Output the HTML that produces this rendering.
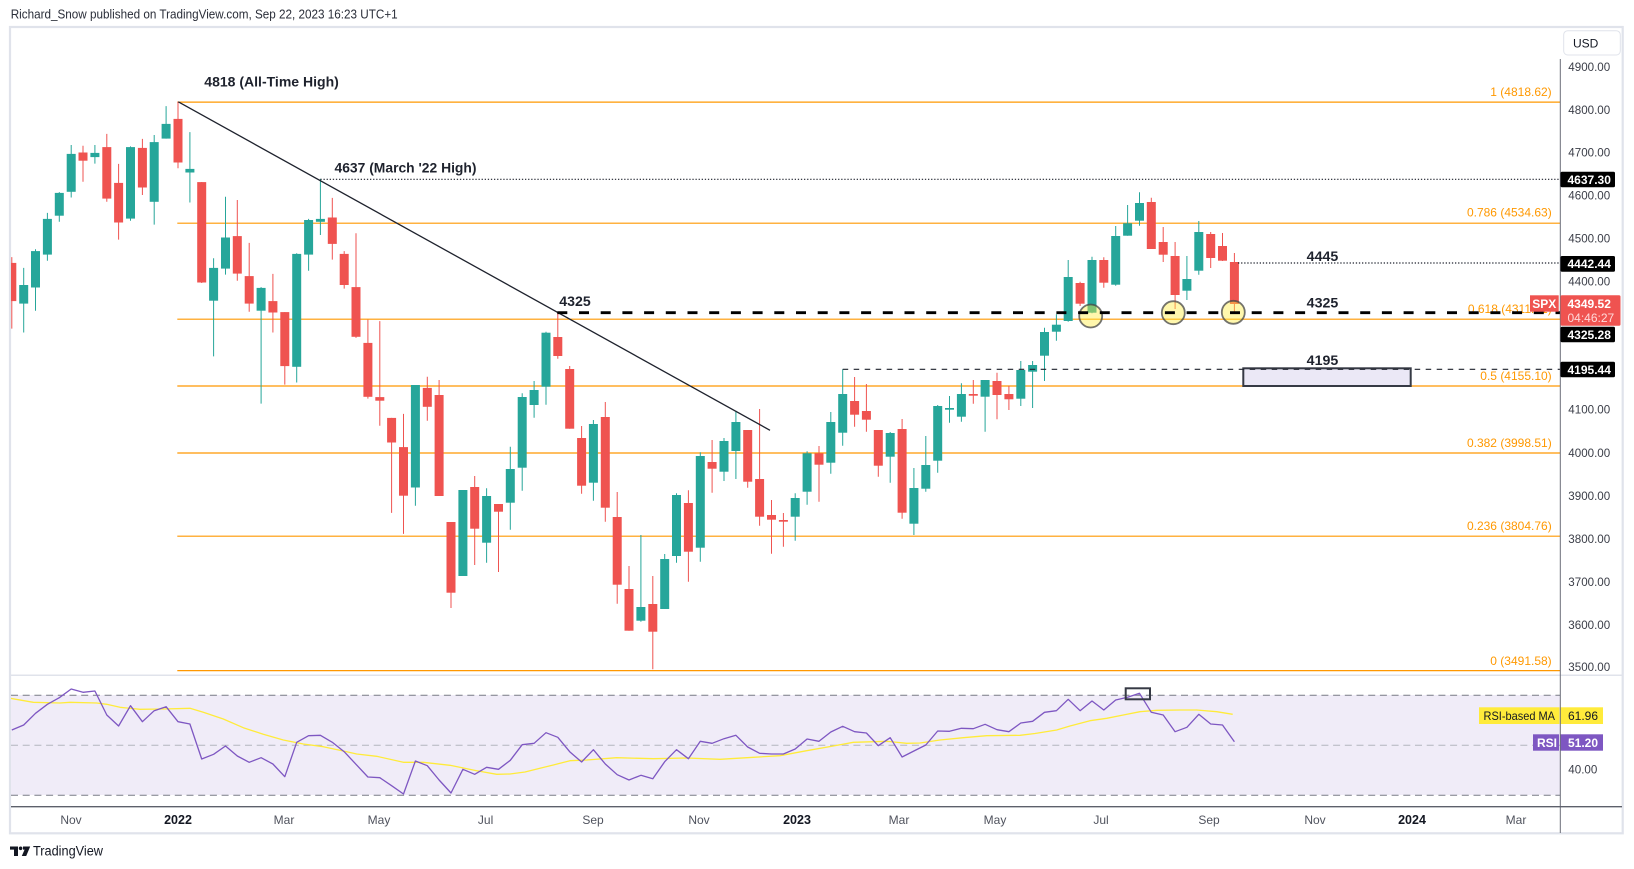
<!DOCTYPE html>
<html><head><meta charset="utf-8"><style>
html,body{margin:0;padding:0;background:#fff;width:1634px;height:869px;overflow:hidden}
svg{display:block}
text{font-family:"Liberation Sans",Arial,sans-serif}
</style></head><body>
<svg width="1634" height="869" viewBox="0 0 1634 869" xmlns="http://www.w3.org/2000/svg">
<defs><clipPath id="cp"><rect x="11" y="28" width="1549" height="647"/></clipPath>
<clipPath id="cr"><rect x="11" y="676" width="1549" height="130"/></clipPath></defs>
<rect width="1634" height="869" fill="#fff"/>
<text x="10.7" y="18.5" font-size="12.5" fill="#2a2e39" textLength="387" lengthAdjust="spacingAndGlyphs">Richard_Snow published on TradingView.com, Sep 22, 2023 16:23 UTC+1</text>
<rect x="10" y="27" width="1612.7" height="806.3" fill="#fff" stroke="#e0e3eb" stroke-width="2.2"/>

<!-- fib lines -->
<g stroke="#ff9800" stroke-width="1.2">
<line x1="177.3" y1="102.1" x2="1560" y2="102.1"/>
<line x1="177.3" y1="223.2" x2="1560" y2="223.2"/>
<line x1="177.3" y1="319.2" x2="1560" y2="319.2"/>
<line x1="177.3" y1="386" x2="1560" y2="386"/>
<line x1="177.3" y1="453" x2="1560" y2="453"/>
<line x1="177.3" y1="536.2" x2="1560" y2="536.2"/>
<line x1="177.3" y1="670.6" x2="1560" y2="670.6"/>
</g>
<g font-size="12" fill="#ff9800" text-anchor="end">
<text x="1551.7" y="96">1 (4818.62)</text>
<text x="1551.7" y="216.6">0.786 (4534.63)</text>
<text x="1551.7" y="313">0.618 (4311.61)</text>
<text x="1551.7" y="379.8">0.5 (4155.10)</text>
<text x="1551.7" y="446.8">0.382 (3998.51)</text>
<text x="1551.7" y="530">0.236 (3804.76)</text>
<text x="1551.7" y="664.8">0 (3491.58)</text>
</g>

<!-- rectangle zone -->
<rect x="1243.3" y="368.3" width="167.4" height="17.7" fill="#ebe8f6" stroke="#363a45" stroke-width="2"/>

<g clip-path="url(#cp)">
<!-- candles green -->
<path stroke="#26a69a" stroke-width="1" fill="none" d="M23.7 267.9V332.5M35.5 249.3V310.7M47.4 212.9V260.7M59.3 192.1V221.8M71.2 145V197.5M94.9 145V163.6M130.5 146.4V220.7M154.2 135V224.6M166.1 106.1V138.6M189.9 132.1V202.5M213.6 258.2V356.4M225.5 196.8V274.6M261.1 287.1V403.6M296.7 253.2V382.5M308.6 218.9V270.7M320.4 178.9V235M415.4 385V505.7M462.9 490V576M486.6 488.3V562.7M510.3 446.7V529.7M522.2 393.3V490.7M534.1 381V417.7M546 331.7V404.7M593.4 420V500.7M640.9 535V621.7M664.7 554V609M676.5 493.3V562.7M700.3 452.3V561.7M724 438V481M735.9 410.7V479M795.2 493.3V540.7M807.1 451.3V504.7M830.8 412V473.7M842.7 369.3V445.7M890.2 432V482.7M913.9 468V535M925.8 436V491.7M937.7 405V472.7M949.5 396V422.7M961.4 383.3V421.7M985.1 380V431.7M1020.8 361V406M1032.6 361V408M1044.5 327.7V381M1056.4 314.3V340.7M1068.2 260V321.7M1092 256.7V313.3M1115.7 226V285.7M1127.6 205V235.7M1139.5 192.3V225.7M1186.9 256V300M1198.8 221V274.7"/>
<g fill="#26a69a">
<rect x="19.2" y="285" width="9" height="18.6"/>
<rect x="31" y="251.1" width="9" height="36.4"/>
<rect x="42.9" y="218.9" width="9" height="35.7"/>
<rect x="54.8" y="192.9" width="9" height="22.8"/>
<rect x="66.7" y="153.9" width="9" height="37.9"/>
<rect x="90.4" y="152.9" width="9" height="4.2"/>
<rect x="126" y="147.1" width="9" height="71.5"/>
<rect x="149.7" y="142.1" width="9" height="59.7"/>
<rect x="161.6" y="123.9" width="9" height="14.7"/>
<rect x="185.4" y="168.9" width="9" height="3.6"/>
<rect x="209.1" y="267.9" width="9" height="32.8"/>
<rect x="221" y="237.5" width="9" height="31.1"/>
<rect x="256.6" y="287.9" width="9" height="22.8"/>
<rect x="292.2" y="253.9" width="9" height="112.9"/>
<rect x="304.1" y="220" width="9" height="34.6"/>
<rect x="315.9" y="218.9" width="9" height="2.9"/>
<rect x="410.9" y="385" width="9" height="102.5"/>
<rect x="458.4" y="490" width="9" height="86"/>
<rect x="482.1" y="496" width="9" height="46.7"/>
<rect x="505.8" y="469" width="9" height="33.7"/>
<rect x="517.7" y="397" width="9" height="70.7"/>
<rect x="529.6" y="390" width="9" height="15"/>
<rect x="541.5" y="332.7" width="9" height="54"/>
<rect x="588.9" y="424" width="9" height="58.7"/>
<rect x="636.4" y="607" width="9" height="13.7"/>
<rect x="660.2" y="559" width="9" height="50"/>
<rect x="672" y="495" width="9" height="61"/>
<rect x="695.8" y="456" width="9" height="91.7"/>
<rect x="719.5" y="441" width="9" height="30.7"/>
<rect x="731.4" y="422" width="9" height="29"/>
<rect x="790.7" y="498" width="9" height="18.7"/>
<rect x="802.6" y="453.3" width="9" height="38.4"/>
<rect x="826.3" y="422" width="9" height="40.7"/>
<rect x="838.2" y="394" width="9" height="38.7"/>
<rect x="885.7" y="433" width="9" height="23.7"/>
<rect x="909.4" y="488" width="9" height="35.7"/>
<rect x="921.3" y="465" width="9" height="23.7"/>
<rect x="933.2" y="406" width="9" height="54.7"/>
<rect x="945" y="408" width="9" height="1.7"/>
<rect x="956.9" y="394" width="9" height="22.7"/>
<rect x="980.6" y="380" width="9" height="16.7"/>
<rect x="1016.3" y="370" width="9" height="28.7"/>
<rect x="1028.1" y="365" width="9" height="6.7"/>
<rect x="1040" y="332" width="9" height="23.7"/>
<rect x="1051.9" y="324.7" width="9" height="7"/>
<rect x="1063.7" y="277" width="9" height="44"/>
<rect x="1087.5" y="260" width="9" height="52.7"/>
<rect x="1111.2" y="236" width="9" height="48.7"/>
<rect x="1123.1" y="223.3" width="9" height="12.4"/>
<rect x="1135" y="203" width="9" height="17.7"/>
<rect x="1182.4" y="279" width="9" height="11.7"/>
<rect x="1194.3" y="232" width="9" height="38.7"/>
</g>
<!-- candles red -->
<path stroke="#ef5350" stroke-width="1" fill="none" d="M11.8 257.1V328.6M83 145.7V181.8M106.8 133.9V201.8M118.6 163.9V239.6M142.4 138.9V195M178 101.8V168.2M201.7 182V283M237.3 200V280.7M249.2 242.9V311.8M272.9 273.9V332.5M284.8 312.1V384.6M332.3 197.9V259.6M344.2 251.1V288.6M356 233.2V337.9M367.9 319.6V398.6M379.8 321.1V425.7M391.6 417.9V512.9M403.5 413.9V533.9M427.3 376.8V420.7M439.1 380V496M451 522V608M474.7 476V565M498.5 504V572M557.8 312.3V358.7M569.7 366V428.7M581.6 426V493.7M605.3 402V521.7M617.2 492V603.7M629 566V630.7M652.8 576V669.3M688.4 490.3V581.7M712.1 440V492.7M747.7 430V487.7M759.6 409V525.7M771.5 500V553.7M783.4 513V546.7M819 446V501.7M854.6 377V426.7M866.4 384V431.7M878.3 430V476.7M902.1 419V518.7M973.3 380V403.7M997 372.7V419.3M1008.9 385.7V410M1080.1 281.7V306M1103.8 257.3V287.7M1151.3 197.7V249M1163.2 227V262M1175.1 242V309M1210.7 232V268M1222.5 233V261M1234.4 253V311.7"/>
<g fill="#ef5350">
<rect x="7.3" y="262.9" width="9" height="38.2"/>
<rect x="78.5" y="152.5" width="9" height="8.2"/>
<rect x="102.3" y="147.1" width="9" height="51.5"/>
<rect x="114.1" y="182.9" width="9" height="39.6"/>
<rect x="137.9" y="147.9" width="9" height="39.6"/>
<rect x="173.5" y="118.9" width="9" height="43.6"/>
<rect x="197.2" y="182.1" width="9" height="100.4"/>
<rect x="232.8" y="236.1" width="9" height="37.5"/>
<rect x="244.7" y="276.1" width="9" height="27.5"/>
<rect x="268.4" y="301.1" width="9" height="11.4"/>
<rect x="280.3" y="312.1" width="9" height="54"/>
<rect x="327.8" y="217.5" width="9" height="26.4"/>
<rect x="339.7" y="253.9" width="9" height="31.1"/>
<rect x="351.5" y="287.1" width="9" height="49.7"/>
<rect x="363.4" y="342.9" width="9" height="53.9"/>
<rect x="375.3" y="397.1" width="9" height="3.6"/>
<rect x="387.1" y="417.9" width="9" height="24.6"/>
<rect x="399" y="447.1" width="9" height="48.6"/>
<rect x="422.8" y="387.9" width="9" height="18.9"/>
<rect x="434.6" y="395" width="9" height="101"/>
<rect x="446.5" y="522" width="9" height="70.7"/>
<rect x="470.2" y="487" width="9" height="41.7"/>
<rect x="494" y="504" width="9" height="7.7"/>
<rect x="553.3" y="337" width="9" height="19"/>
<rect x="565.2" y="369" width="9" height="59.7"/>
<rect x="577.1" y="438" width="9" height="47.7"/>
<rect x="600.8" y="417" width="9" height="90.7"/>
<rect x="612.7" y="517" width="9" height="67.7"/>
<rect x="624.5" y="589" width="9" height="41.7"/>
<rect x="648.3" y="604" width="9" height="27.7"/>
<rect x="683.9" y="503" width="9" height="48.7"/>
<rect x="707.6" y="462" width="9" height="6.7"/>
<rect x="743.2" y="430" width="9" height="51.7"/>
<rect x="755.1" y="479" width="9" height="37.7"/>
<rect x="767" y="515" width="9" height="4.7"/>
<rect x="778.9" y="520" width="9" height="1.7"/>
<rect x="814.5" y="453.3" width="9" height="11.4"/>
<rect x="850.1" y="401" width="9" height="13.7"/>
<rect x="861.9" y="411" width="9" height="8.7"/>
<rect x="873.8" y="430" width="9" height="35.7"/>
<rect x="897.6" y="429" width="9" height="83.7"/>
<rect x="968.8" y="394" width="9" height="1.7"/>
<rect x="992.5" y="381" width="9" height="14"/>
<rect x="1004.4" y="394" width="9" height="5.3"/>
<rect x="1075.6" y="283" width="9" height="20.7"/>
<rect x="1099.3" y="260" width="9" height="22.7"/>
<rect x="1146.8" y="202" width="9" height="47"/>
<rect x="1158.7" y="242" width="9" height="12.7"/>
<rect x="1170.6" y="256" width="9" height="39"/>
<rect x="1206.2" y="234" width="9" height="24"/>
<rect x="1218" y="246" width="9" height="14.7"/>
<rect x="1229.9" y="262" width="9" height="42"/>
</g>

<!-- trend line -->
<line x1="178.3" y1="101.8" x2="770" y2="430.3" stroke="#1e222d" stroke-width="1.3"/>
<!-- dotted lines -->
<line x1="320.4" y1="179.3" x2="1560" y2="179.3" stroke="#1e222d" stroke-width="1.2" stroke-dasharray="1.3,1.8"/>
<line x1="1238" y1="263" x2="1560" y2="263" stroke="#1e222d" stroke-width="1.2" stroke-dasharray="1.3,1.8"/>
<line x1="842.7" y1="369.3" x2="1560" y2="369.3" stroke="#1e222d" stroke-width="1.2" stroke-dasharray="5.5,5.5"/>
<!-- circles -->
<g fill="rgba(255,235,59,0.42)" stroke="rgba(70,70,70,0.75)" stroke-width="1.8">
<circle cx="1090.7" cy="316" r="11.5"/>
<circle cx="1173.3" cy="312.7" r="11.5"/>
<circle cx="1233.3" cy="312.3" r="11.5"/>
</g>
<!-- thick dashed 4325 -->
<line x1="557.3" y1="312.7" x2="1560" y2="312.7" stroke="#000" stroke-width="2.8" stroke-dasharray="10,11.7"/>
</g>

<!-- annotation texts -->
<g font-size="13.5" font-weight="bold" fill="#1e222d">
<text x="204.3" y="86.5" textLength="134.5" lengthAdjust="spacingAndGlyphs">4818 (All-Time High)</text>
<text x="334.5" y="172.3" textLength="142" lengthAdjust="spacingAndGlyphs">4637 (March '22 High)</text>
<text x="559.3" y="306.2" textLength="31.4" lengthAdjust="spacingAndGlyphs">4325</text>
<text x="1306.7" y="260.8" textLength="31.6" lengthAdjust="spacingAndGlyphs">4445</text>
<text x="1306.7" y="307.3" textLength="31.6" lengthAdjust="spacingAndGlyphs">4325</text>
<text x="1306.7" y="364.8" textLength="31.6" lengthAdjust="spacingAndGlyphs">4195</text>
</g>

<!-- pane separators -->
<line x1="11" y1="675.3" x2="1622" y2="675.3" stroke="#e0e3eb" stroke-width="1.5"/>

<!-- RSI pane -->
<rect x="11" y="695" width="1549" height="100" fill="#f0ecf8"/>
<line x1="11" y1="695.3" x2="1560" y2="695.3" stroke="#787b86" stroke-width="1" stroke-dasharray="7,4.7"/>
<line x1="11" y1="745.3" x2="1560" y2="745.3" stroke="#b2b5be" stroke-width="1" stroke-dasharray="7,4.7"/>
<line x1="11" y1="795.3" x2="1560" y2="795.3" stroke="#787b86" stroke-width="1" stroke-dasharray="7,4.7"/>
<g clip-path="url(#cr)" fill="none" stroke-width="1.3" stroke-linejoin="round">
<polyline stroke="#ffeb3b" points="10,698.3 33.3,702.3 60,703 70,702.3 96.7,703 106.7,704.3 120,707.3 140,709.3 163.3,709 190,708.3 203.3,712.3 223.3,719 243.3,727.7 263.3,734.3 283.3,740 303.3,744 323.3,746.7 343.3,751 356.7,754 376.7,756.3 403.3,762.3 423.3,762.3 450,765.3 476.7,770.7 496.7,774.3 510,774 525,772 540,768.3 553.3,765 570,760.7 586.7,760 616.7,757.7 653.3,758.7 686.7,758 720,759.3 753.3,757.3 780,755.7 806.7,750.7 833.3,746 853.3,742.3 886.7,741.3 906.7,743.3 920,743 940,740 963.3,737.7 986.7,735.7 1020,735.3 1035,733.5 1056.7,730 1070,726 1090,720.7 1106.7,718.3 1123.3,715 1140,711.7 1156.7,710.3 1180,710 1196.7,710 1216.7,711.7 1232.7,714.3"/>
<polyline stroke="#7e57c2" points="11.8,730 23.7,725 35.5,713.3 47.4,704.3 59.3,697.7 71.2,689 83,692.3 94.9,691 106.8,715 118.6,726 130.5,705.7 142.4,721.7 154.2,710.7 166.1,706.7 178,721.7 189.9,724 201.7,759 213.6,754.3 225.5,746 237.3,756 249.2,762.3 261.1,757.7 272.9,764 284.8,776.7 296.7,742.3 308.6,735.7 320.4,735.3 332.3,742.3 344.2,751.7 356,764.3 367.9,777 379.8,777.7 391.6,785.7 403.5,794 415.4,761 427.3,765.7 439.1,780 451,793 462.9,769.3 474.7,774.3 486.6,767.3 498.5,769.3 510.3,760.3 522.2,744.7 534.1,743.3 546,732.7 557.8,737.3 569.7,751.7 581.6,762 593.4,749.7 605.3,764 617.2,774.7 629,780 640.9,775.3 652.8,778.7 664.7,761.7 676.5,749.7 688.4,758.7 700.3,741.3 712.1,743.3 724,738.7 735.9,735.3 747.7,747 759.6,753.3 771.5,754 783.4,754 795.2,749 807.1,739 819,741.3 830.8,732 842.7,726.3 854.6,731.7 866.4,733 878.3,745.7 890.2,737.7 902.1,757 913.9,751 925.8,745 937.7,731 949.5,731.3 961.4,728.3 973.3,728.7 985.1,724.3 997,729.7 1008.9,731.7 1020.8,723 1032.6,721.3 1044.5,712.3 1056.4,710.7 1068.2,699.3 1080.1,710.7 1092,701 1103.8,710 1115.7,700 1127.6,697.3 1139.5,693.3 1151.3,712.3 1163.2,715 1175.1,731.7 1186.9,727.3 1198.8,714.3 1210.7,724 1222.5,725 1234.4,741.7"/>
</g>
<rect x="1125.7" y="688.3" width="24.3" height="11" fill="none" stroke="#363a45" stroke-width="2"/>

<!-- RSI labels -->
<rect x="1479" y="707.3" width="80.5" height="16.7" fill="#ffeb3b"/>
<text x="1483.5" y="720" font-size="12" fill="#131722" textLength="71.5" lengthAdjust="spacingAndGlyphs">RSI-based MA</text>
<rect x="1560.5" y="707.3" width="42.5" height="16.7" fill="#ffeb3b"/>
<text x="1568" y="720" font-size="12" fill="#131722">61.96</text>
<rect x="1533" y="734.3" width="26" height="16.4" fill="#7e57c2"/>
<text x="1537" y="747" font-size="12" fill="#fff" font-weight="bold">RSI</text>
<rect x="1560.5" y="734.3" width="42.5" height="16.4" fill="#7e57c2"/>
<text x="1568" y="747" font-size="12" fill="#fff" font-weight="bold">51.20</text>
<text x="1568.3" y="773.5" font-size="11.6" fill="#3b3e48">40.00</text>

<!-- axes lines -->
<line x1="1560.3" y1="59" x2="1560.3" y2="833" stroke="#6a6d78" stroke-width="1"/>
<line x1="11" y1="806.7" x2="1622" y2="806.7" stroke="#5d606b" stroke-width="1.3"/>

<!-- USD -->
<rect x="1563.7" y="30.7" width="56.6" height="24.3" rx="4" fill="#fff" stroke="#e0e3eb" stroke-width="1"/>
<text x="1573" y="47.5" font-size="12" fill="#131722">USD</text>

<!-- price labels -->
<g font-size="11.6" fill="#3b3e48">
<text x="1568.3" y="70.9">4900.00</text>
<text x="1568.3" y="113.8">4800.00</text>
<text x="1568.3" y="156.7">4700.00</text>
<text x="1568.3" y="199.6">4600.00</text>
<text x="1568.3" y="242.5">4500.00</text>
<text x="1568.3" y="285.4">4400.00</text>
<text x="1568.3" y="413.5">4100.00</text>
<text x="1568.3" y="456.9">4000.00</text>
<text x="1568.3" y="499.9">3900.00</text>
<text x="1568.3" y="542.9">3800.00</text>
<text x="1568.3" y="585.9">3700.00</text>
<text x="1568.3" y="628.9">3600.00</text>
<text x="1568.3" y="670.9">3500.00</text>
</g>

<!-- price tags -->
<g fill="#000">
<rect x="1560.5" y="171.7" width="54.5" height="15.6" rx="1.5"/>
<rect x="1560.5" y="256" width="54.5" height="15.7" rx="1.5"/>
<rect x="1560.5" y="326.7" width="54.5" height="15.6" rx="1.5"/>
<rect x="1560.5" y="361.7" width="54.5" height="15.6" rx="1.5"/>
</g>
<g font-size="12" font-weight="bold" fill="#fff">
<text x="1567.5" y="183.9">4637.30</text>
<text x="1567.5" y="268.2">4442.44</text>
<text x="1567.5" y="338.9">4325.28</text>
<text x="1567.5" y="373.9">4195.44</text>
</g>
<rect x="1530" y="295.3" width="28.7" height="16.4" fill="#ef5350"/>
<text x="1544.3" y="307.8" font-size="12" font-weight="bold" fill="#fff" text-anchor="middle">SPX</text>
<rect x="1560.5" y="295.3" width="60" height="30.4" rx="1.5" fill="#ef5350"/>
<text x="1567.5" y="307.8" font-size="12" font-weight="bold" fill="#fff">4349.52</text>
<text x="1567.5" y="322" font-size="12" fill="#ffd9d9">04:46:27</text>

<!-- time labels -->
<g font-size="12" fill="#50535e" text-anchor="middle">
<text x="71" y="824">Nov</text>
<text x="284" y="824">Mar</text>
<text x="379" y="824">May</text>
<text x="485.6" y="824">Jul</text>
<text x="593" y="824">Sep</text>
<text x="699" y="824">Nov</text>
<text x="899" y="824">Mar</text>
<text x="995" y="824">May</text>
<text x="1101" y="824">Jul</text>
<text x="1209" y="824">Sep</text>
<text x="1315" y="824">Nov</text>
<text x="1516" y="824">Mar</text>
</g>
<g font-size="12.5" font-weight="bold" fill="#131722" text-anchor="middle">
<text x="178" y="824">2022</text>
<text x="797" y="824">2023</text>
<text x="1412" y="824">2024</text>
</g>

<!-- TradingView footer logo -->
<g fill="#131722">
<path d="M10 846.5H18V856H14V849.6H10Z"/>
<circle cx="20.6" cy="848.3" r="1.8"/>
<path d="M23 846.5H30.2L26.2 856H21.8L24.6 849.6H23Z"/>
</g>
<text x="33" y="855.3" font-size="13.5" fill="#131722" textLength="70" lengthAdjust="spacingAndGlyphs">TradingView</text>
</svg>
</body></html>
